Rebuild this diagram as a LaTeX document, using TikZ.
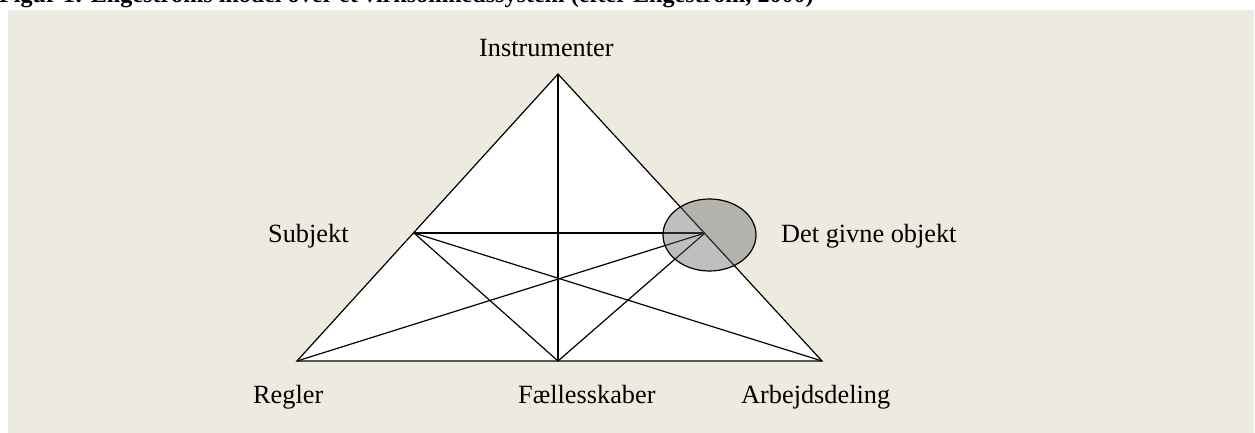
\documentclass[tikz,border=0pt]{standalone}
\usepackage{fontspec}
\setmainfont{Liberation Serif}
\usetikzlibrary{shapes.geometric}
\begin{document}
\begin{tikzpicture}[x=1pt,y=-1pt,
  lbl/.style={anchor=base west,inner sep=0pt,font=\fontsize{26.3}{30}\selectfont},
  edge/.style={draw=black,line width=1.2pt,line join=miter},
]
\definecolor{bg}{RGB}{237,234,224}
\definecolor{ovalgray}{RGB}{96,96,96}
\useasboundingbox (0,0) rectangle (1255,433);
\fill[white] (0,0) rectangle (1255,433);
\fill[bg] (8,10) rectangle (1254,433);
% title (clipped at top)
\node[anchor=base west,inner sep=0pt,font=\fontsize{24.1}{28}\selectfont\bfseries] (title) at (-1,3) {Figur 1: Engeströms model over et virksomhedssystem (efter Engeström, 2000)};
% vertices
\coordinate (A) at (558,74);
\coordinate (R) at (297,361);
\coordinate (F) at (558,361);
\coordinate (W) at (822,361);
\coordinate (S) at (414,233);
\coordinate (O) at (705,233);
\fill[white] (A) -- (R) -- (W) -- cycle;
\draw[edge] (A) -- (R) -- (W) -- cycle;
\draw[edge] (A) -- (F);
\draw[edge] (S) -- (O);
\draw[edge] (S) -- (F);
\draw[edge] (S) -- (W);
\draw[edge] (R) -- (O);
\draw[edge] (F) -- (O);
% object ellipse
\node[ellipse,draw=black,line width=1.2pt,fill=ovalgray,fill opacity=0.4,draw opacity=1,minimum width=93pt,minimum height=72pt,inner sep=0pt] (oval) at (709.5,235) {};
% labels
\node[lbl] (linstr) at (479,57) {Instrumenter};
\node[lbl] (lsubj) at (268,242) {Subjekt};
\node[lbl] (lobj) at (781,242) {Det givne objekt};
\node[lbl] (lregl) at (253,403) {Regler};
\node[lbl] (lfael) at (518,403) {Fællesskaber};
\node[lbl] (larb) at (741,403) {Arbejdsdeling};
\end{tikzpicture}
\end{document}
